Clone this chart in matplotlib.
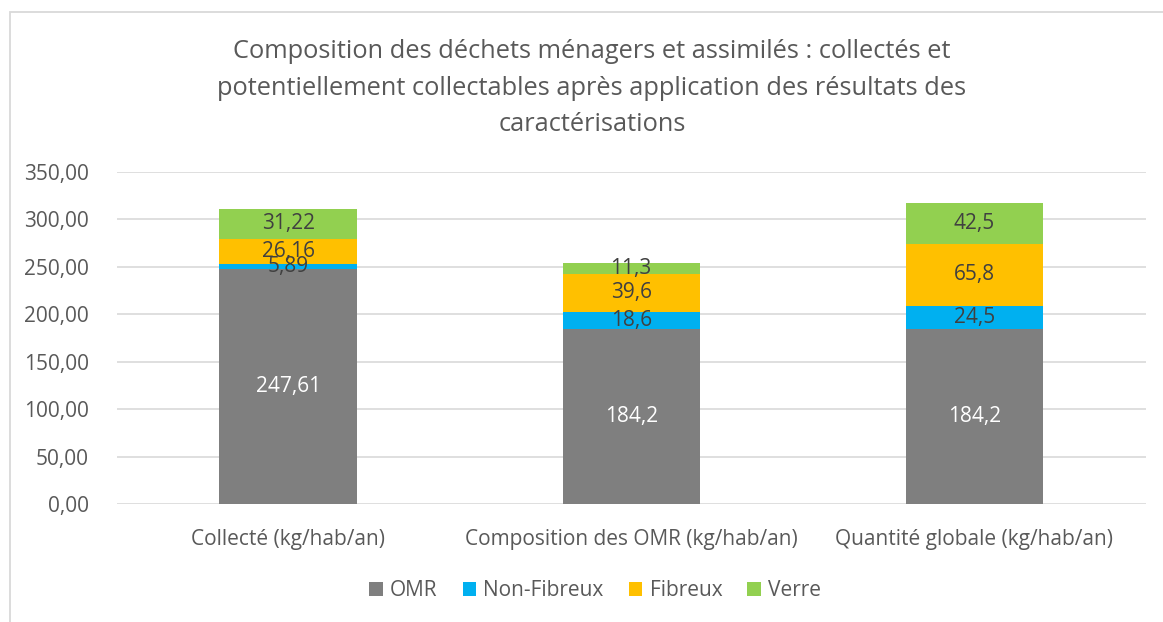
import numpy as np
import matplotlib.pyplot as plt
from matplotlib.patches import Rectangle
from matplotlib.ticker import FuncFormatter

# Données
categories = ['Collecté (kg/hab/an)', 'Composition des OMR (kg/hab/an)', 'Quantité globale (kg/hab/an)']
series_names = ['OMR', 'Non-Fibreux', 'Fibreux', 'Verre']
omr = [247.61, 184.2, 184.2]
non_fibreux = [5.89, 18.6, 24.5]
fibreux = [26.16, 39.6, 65.8]
verre = [31.22, 11.3, 42.5]
colors = ['#7f7f7f', '#00b0f0', '#ffc000', '#92d050']
label_colors = ['white', '#404040', '#404040', '#404040']
title = ("Composition des déchets ménagers et assimilés : collectés et\n"
         "potentiellement collectables après application des résultats des\n"
         "caractérisations")

plt.rcParams['font.family'] = ['Open Sans', 'DejaVu Sans']

fig = plt.figure(figsize=(11.63, 6.22), dpi=100)
ax = fig.add_axes([0.1002, 0.1897, 0.885, 0.5338])

# cadre du graphique
fig.patches.append(Rectangle((10 / 1163, -0.1), 1.2, 1.1 - 12 / 622,
                             transform=fig.transFigure, fill=False,
                             edgecolor='#d9d9d9', linewidth=1.3))

x = np.arange(len(categories))
bottom = np.zeros(len(categories))
for name, vals, col, lcol in zip(series_names, [omr, non_fibreux, fibreux, verre], colors, label_colors):
    vals = np.array(vals)
    ax.bar(x, vals, 0.40, bottom=bottom, color=col, label=name, zorder=3)
    for xi, b, v in zip(x, bottom, vals):
        ax.text(xi, b + v / 2, f"{v:g}".replace('.', ','), ha='center', va='center',
                color=lcol, fontsize=15, zorder=4)
    bottom += vals

ax.set_xlim(-0.5, 2.5)
ax.set_ylim(0, 350)
ax.set_yticks(np.arange(0, 351, 50))
ax.yaxis.set_major_formatter(FuncFormatter(lambda v, p: f"{v:.2f}".replace('.', ',')))
ax.set_xticks(x)
ax.set_xticklabels(categories)
ax.grid(axis='y', color='#d9d9d9', linewidth=1.2, zorder=0)
for s in ax.spines.values():
    s.set_visible(False)
ax.tick_params(length=0, labelsize=15, colors='#595959', pad=18)
ax.tick_params(axis='y', pad=20)

fig.text(0.509, 0.937, title, ha='center', va='top', fontsize=18.3, color='#595959',
         linespacing=1.6)

ax.legend(loc='center', bbox_to_anchor=(0.465, -0.262), ncol=4, frameon=False,
          fontsize=15, labelcolor='#595959', handlelength=0.65, handleheight=0.65,
          handletextpad=0.35, columnspacing=1.2)

fig.savefig('out.png', dpi=100)
